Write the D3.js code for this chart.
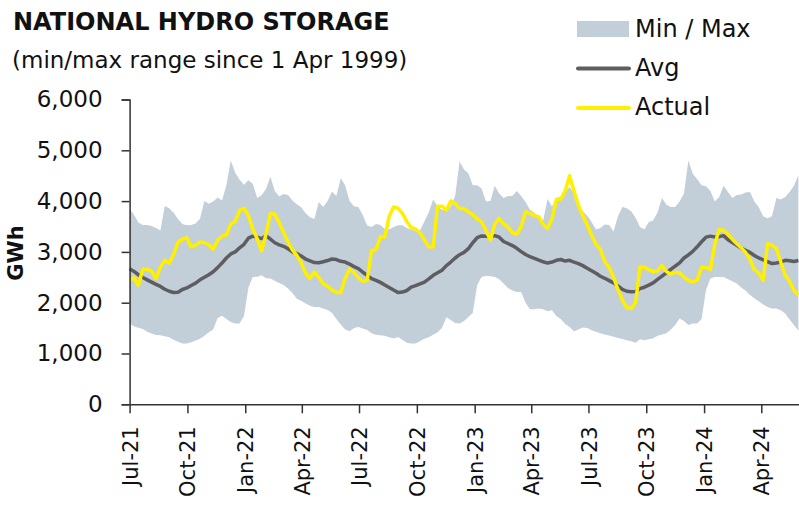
<!DOCTYPE html>
<html>
<head>
<meta charset="utf-8">
<script src="https://cdn.jsdelivr.net/npm/d3@7"></script>
<style>
  body { margin: 0; background: #fff; }
  text { font-family: "DejaVu Sans", sans-serif; fill: #111; }
</style>
</head>
<body>
<script>
// weekly readings from 1 Jul 2021 to end of May 2024 (GWh)
const startDate = new Date(2021, 6, 1);
const endDate = new Date(2024, 4, 31);

const maxVals = [3850,3730,3580,3530,3530,3510,3470,3420,3905,3860,3770,3650,3550,3524,3530,3560,3655,4000,3950,3990,4070,4010,4311,4800,4560,4420,4320,4410,4344,4060,4114,4240,4480,4200,4090,4140,4120,4010,3940,
  3880,3760,3680,3650,3980,3885,4000,4190,4100,4450,4300,4000,3900,3885,3720,3520,3491,3550,3530,3450,3440,3490,3524,3524,3470,3440,3410,3420,3600,3780,4030,3900,3830,3819,3900,4100,4780,4620,4541,
  4311,4311,4246,3990,4000,4300,4150,4060,4100,4100,4200,4100,3980,3830,3770,3680,3622,4040,3890,4060,4090,4200,4280,4150,3885,3800,3710,3590,3440,3470,3540,3530,3400,3700,3885,3860,3800,3670,
  3490,3440,3590,3620,3780,4060,3930,3885,3885,3990,4150,4800,4540,4430,4311,4290,4200,3990,4080,4300,4180,4060,4120,4130,4170,4180,3990,3880,3700,3660,3700,4060,4030,4082,4180,4300,4508];

const minVals = [1589,1530,1505,1480,1430,1395,1365,1360,1340,1320,1270,1230,1195,1195,1220,1255,1290,1350,1420,1470,1700,1745,1680,1620,1589,1589,1740,2300,2507,2510,2540,2480,2474,2430,2390,2350,2280,2190,2080,
  2040,1985,1940,1917,1917,1884,1855,1800,1680,1570,1470,1440,1500,1520,1490,1465,1400,1370,1359,1350,1320,1294,1326,1270,1210,1195,1195,1240,1290,1320,1370,1420,1500,1715,1660,1600,1589,1640,1720,
  1800,2350,2507,2530,2520,2507,2460,2380,2290,2240,2212,2212,2000,1870,1870,1884,1870,1830,1850,1740,1680,1580,1520,1440,1470,1510,1500,1460,1430,1400,1375,1355,1330,1305,1285,1260,1240,1210,
  1280,1261,1280,1300,1350,1375,1400,1470,1560,1690,1640,1560,1589,1589,1680,2250,2474,2507,2507,2507,2460,2420,2380,2300,2240,2150,2090,2030,1965,1915,1884,1884,1850,1786,1670,1560,1450];

const avgVals = [2671,2615,2550,2495,2450,2405,2360,2320,2265,2225,2200,2205,2260,2290,2340,2385,2450,2500,2550,2610,2690,2780,2880,2960,3000,3080,3150,3270,3310,3290,3262,3320,3250,3180,3140,3110,3060,3000,2966,
  2920,2860,2825,2790,2785,2805,2830,2860,2850,2815,2800,2760,2710,2670,2600,2540,2474,2440,2400,2350,2300,2250,2199,2210,2240,2305,2335,2370,2405,2470,2540,2590,2640,2730,2800,2880,2945,2990,3065,
  3180,3280,3315,3310,3300,3320,3290,3205,3165,3125,3070,3005,2950,2905,2872,2840,2805,2780,2800,2835,2850,2820,2835,2800,2770,2730,2680,2630,2580,2520,2480,2435,2390,2330,2264,2225,2215,2222,
  2278,2305,2345,2390,2460,2525,2590,2655,2720,2785,2880,2940,3010,3100,3200,3290,3310,3294,3300,3320,3240,3185,3130,3075,3030,2990,2930,2880,2845,2810,2770,2780,2800,2835,2825,2810,2830];

const actualVals = [2442,2488,2343,2660,2660,2620,2474,2700,2835,2780,2950,3190,3250,3280,3098,3130,3196,3185,3140,3050,3230,3310,3330,3550,3600,3819,3860,3720,3450,3260,3020,3350,3760,3740,3580,3380,3200,3040,2930,
  2790,2580,2480,2600,2500,2376,2320,2250,2200,2200,2480,2660,2590,2490,2420,2445,3032,3040,3300,3294,3700,3885,3860,3760,3600,3480,3450,3380,3240,3100,3098,3900,3900,3819,4000,3950,3852,3852,3786,
  3730,3650,3590,3420,3230,3550,3660,3550,3490,3380,3350,3500,3786,3760,3715,3688,3540,3460,3650,4030,4040,4200,4500,4200,3918,3720,3530,3327,3150,3050,2810,2690,2500,2260,2050,1900,1884,2000,
  2704,2700,2650,2610,2630,2730,2615,2560,2600,2590,2500,2442,2410,2442,2700,2700,2650,3150,3440,3426,3350,3250,3160,3080,2990,2850,2650,2580,2442,3163,3130,3070,2800,2540,2420,2245,2147];

const yTicks = [0, 1000, 2000, 3000, 4000, 5000, 6000];
const legendLabels = ["Min / Max", "Avg", "Actual"];

const dates = maxVals.map((d, i) => d3.timeDay.offset(startDate, i * 7));
const data = dates.map((d, i) => ({ date: d, min: minVals[i], max: maxVals[i], avg: avgVals[i], actual: actualVals[i] }));

const width = 799, height = 507;
const bandColor = "#c2ced8", avgColor = "#5e5e62", actualColor = "#fff000";

const svg = d3.select("body").append("svg")
  .attr("width", width)
  .attr("height", height);

const x = d3.scaleTime().domain([startDate, endDate]).range([129.6, 799]);
const y = d3.scaleLinear().domain([0, 6000]).range([404.3, 99.5]);

// band
svg.append("path")
  .datum(data)
  .attr("fill", bandColor)
  .attr("d", d3.area().x(d => x(d.date)).y0(d => y(d.min)).y1(d => y(d.max)));

// avg + actual
svg.append("path")
  .datum(data)
  .attr("fill", "none")
  .attr("stroke", avgColor)
  .attr("stroke-width", 3.5)
  .attr("stroke-linejoin", "round")
  .attr("d", d3.line().x(d => x(d.date)).y(d => y(d.avg)));

svg.append("path")
  .datum(data)
  .attr("fill", "none")
  .attr("stroke", actualColor)
  .attr("stroke-width", 3.5)
  .attr("stroke-linejoin", "round")
  .attr("d", d3.line().x(d => x(d.date)).y(d => y(d.actual)));

// axes
const yAxis = svg.append("g")
  .attr("transform", "translate(129.6,0)")
  .call(d3.axisLeft(y).tickValues(yTicks).tickSize(8).tickPadding(19).tickFormat(d3.format(",")));

const xAxis = svg.append("g")
  .attr("transform", "translate(0,404.3)")
  .call(d3.axisBottom(x).ticks(d3.timeMonth.every(3)).tickSize(9).tickSizeOuter(0).tickFormat(d3.timeFormat("%b-%y")));

xAxis.selectAll("text")
  .attr("transform", "rotate(-90)")
  .attr("x", -22)
  .attr("y", 0)
  .attr("dy", "0.36em")
  .style("text-anchor", "end");

[yAxis, xAxis].forEach(g => {
  g.select(".domain").attr("stroke", "#333").attr("stroke-width", 1.5);
  g.selectAll(".tick line").attr("stroke", "#333").attr("stroke-width", 1.5);
  g.selectAll("text").attr("font-family", "DejaVu Sans").attr("fill", "#111");
});
yAxis.selectAll("text").attr("font-size", 23);
xAxis.selectAll("text").attr("font-size", 21);

svg.append("text")
  .attr("transform", "translate(23,253) rotate(-90)")
  .attr("text-anchor", "middle")
  .attr("font-size", 21)
  .attr("font-weight", "bold")
  .text("GWh");

// titles
svg.append("text")
  .attr("x", 13).attr("y", 30)
  .attr("font-size", 24)
  .attr("font-weight", "bold")
  .text("NATIONAL HYDRO STORAGE");

svg.append("text")
  .attr("x", 12).attr("y", 68)
  .attr("font-size", 23)
  .text("(min/max range since 1 Apr 1999)");

// legend
const legend = svg.append("g");
legend.append("rect")
  .attr("x", 577).attr("y", 21).attr("width", 52).attr("height", 16)
  .attr("fill", bandColor);
legend.append("line")
  .attr("x1", 578).attr("x2", 629).attr("y1", 68.5).attr("y2", 68.5)
  .attr("stroke", avgColor).attr("stroke-width", 4).attr("stroke-linecap", "round");
legend.append("line")
  .attr("x1", 578).attr("x2", 629).attr("y1", 108).attr("y2", 108)
  .attr("stroke", actualColor).attr("stroke-width", 4).attr("stroke-linecap", "round");
legend.selectAll("text.lg")
  .data(legendLabels)
  .enter().append("text")
  .attr("class", "lg")
  .attr("x", 635)
  .attr("y", (d, i) => 37 + i * 39)
  .attr("font-size", 24)
  .text(d => d);
</script>
</body>
</html>
